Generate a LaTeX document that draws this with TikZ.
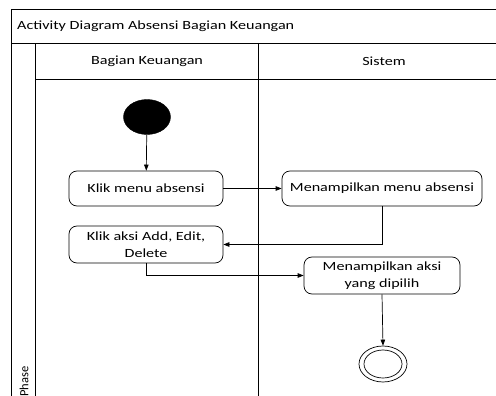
\documentclass[tikz,border=0pt]{standalone}
\usepackage{fontspec}
\usepackage{graphicx}
\setmainfont{Carlito}
\usetikzlibrary{arrows.meta,shapes.geometric}
\newcommand{\sx}[1]{\scalebox{1.29}[1]{#1}}
\begin{document}
\begin{tikzpicture}[x=1pt,y=-1pt,
  frame/.style={line width=0.7pt},
  act/.style={draw,rounded corners=8pt,line width=0.7pt,align=center,font=\fontsize{12.5}{16.5}\selectfont,inner sep=0pt},
  lbl/.style={font=\fontsize{12.5}{14}\selectfont,inner sep=0pt},
  flow/.style={line width=0.7pt,-{Triangle[length=6pt,width=4.5pt]}}]
\useasboundingbox (0,0) rectangle (496,396);
% frame
\draw[frame] (11,396) -- (11,9) -- (496,9);
\draw[frame] (11,43) -- (496,43);
\draw[frame] (35,396) -- (35,43);
\draw[frame] (35,79) -- (496,79);
\draw[frame] (258,43) -- (258,396);
\node[lbl,anchor=west] (title) at (17,26) {\sx{Activity Diagram Absensi Bagian Keuangan}};
\node[lbl] (lane1) at (147,61) {\sx{Bagian Keuangan}};
\node[lbl] (lane2) at (384,61) {\sx{Sistem}};
\node[lbl,rotate=90,anchor=west] (phase) at (24,397) {Phase};
% nodes
\node[fill=black,draw,shape=ellipse,minimum width=47pt,minimum height=35pt,inner sep=0pt] (start) at (147,117) {};
\node[act,minimum width=154pt,minimum height=35pt] (k1) at (146,188.5) {\sx{Klik menu absensi}};
\node[act,minimum width=200pt,minimum height=35pt] (m1) at (382,188.5) {\sx{Menampilkan menu absensi}};
\node[act,minimum width=154pt,minimum height=37pt] (k2) at (146,244.5) {\sx{Klik aksi Add, Edit,}\\\sx{Delete}};
\node[act,minimum width=156pt,minimum height=37pt] (m2) at (382,275.5) {\sx{Menampilkan aksi}\\\sx{yang dipilih}};
\node[draw,line width=0.7pt,shape=ellipse,minimum width=48pt,minimum height=36pt,inner sep=0pt] (end) at (383,364) {};
\node[draw,line width=0.7pt,shape=ellipse,minimum width=38pt,minimum height=28pt,inner sep=0pt] (endin) at (383,364) {};
% flows
\draw[flow] (start) -- (k1);
\draw[flow] (k1) -- (m1);
\draw[flow] (m1.south) |- (k2.east);
\draw[flow] (k2.south) |- (m2.west);
\draw[flow] (m2.south) -- (end.north);
\end{tikzpicture}
\end{document}
